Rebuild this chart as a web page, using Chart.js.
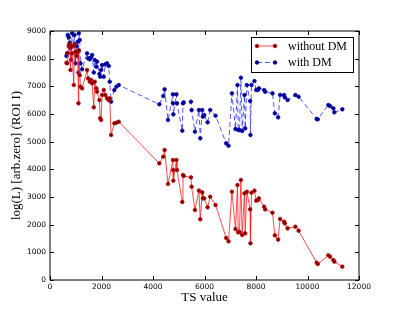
<!DOCTYPE html>
<html>
<head>
<meta charset="utf-8">
<script src="https://cdn.jsdelivr.net/npm/chart.js@4.4.1/dist/chart.umd.min.js"></script>
<style>
  html, body { margin: 0; padding: 0; background: #fff; }
  #wrap { width: 399px; height: 312px; }
</style>
</head>
<body>
<div id="wrap"><canvas id="myChart"></canvas></div>
<script>
// TS values shared by both series
var tsValues = [
  640, 665, 690, 730, 768, 795, 820, 860, 924, 950,
  989, 1027, 1078, 1105, 1117, 1156, 1183, 1248, 1442, 1480,
  1544, 1598, 1635, 1700, 1738, 1803, 1829, 1919, 1950, 1983,
  2022, 2087, 2151, 2216, 2281, 2320, 2372, 2500, 2578, 2669,
  4245, 4400, 4450, 4583, 4775, 4780, 4790, 4910, 4930, 5137,
  5165, 5190, 5473, 5499, 5628, 5783, 5835, 5912, 5938, 5990,
  6119, 6223, 6429, 6843, 6933, 7064, 7204, 7281, 7308, 7359,
  7413, 7463, 7552, 7580, 7645, 7773, 7785, 7824, 7940, 8006,
  8072, 8111, 8317, 8355, 8640, 8731, 8859, 8937, 9092, 9118,
  9227, 9531, 9654, 10358, 10398, 10809, 10875, 11004, 11043, 11352
];
var withoutDM = [
  7855, 7831, 8200, 8457, 8529, 7589, 8432, 8193, 7047, 8529,
  8251, 8100, 8251, 6385, 8300, 7400, 6986, 6927, 7589, 7288,
  7167, 7228, 7108, 6240, 7167, 6927, 6806, 6505, 5843, 5782,
  6686, 6867, 6686, 6566, 6500, 6566, 5240, 5663, 5685, 5721,
  4216, 4457, 4698, 3470, 4337, 3975, 3590, 4337, 3975, 2819,
  3795, 3758, 3711, 3373, 2530, 3229, 2193, 3168, 2951, 2951,
  2626, 3011, 2711, 1518, 1397, 3192, 1843, 3433, 1723, 1735,
  3614, 1626, 3132, 1687, 3192, 2554, 1325, 3156, 3229, 2867,
  2890, 2950, 2650, 2554, 2433, 1614, 1458, 2204, 2108, 2048,
  1867, 1927, 1783, 626, 578, 892, 843, 723, 663, 482
];
var withDM = [
  8095, 8190, 8854, 8770, 8577, 8373, 7951, 8914, 8457, 8854,
  7831, 8457, 8613, 7500, 8914, 8674, 7831, 7615, 8193, 8012,
  7975, 8048, 8131, 7500, 7951, 7710, 7891, 7451, 7348, 7589,
  7770, 7348, 7795, 7831, 7734, 7167, 6445, 6867, 6986, 7047,
  6350, 6650, 6890, 5782, 6710, 6385, 5987, 6710, 6385, 5397,
  6385, 6420, 6445, 6144, 5361, 6144, 5120, 6144, 5903, 5963,
  5698, 6144, 5939, 4939, 4855, 6746, 5457, 7047, 5421, 5421,
  7312, 5385, 6686, 5481, 7047, 6469, 5240, 7047, 7192, 6867,
  6867, 6927, 6867, 6806, 6746, 6023, 5879, 6686, 6686, 6602,
  6505, 6686, 6626, 5819, 5807, 6325, 6288, 6204, 6060, 6168
];
var xTicks = [0, 2000, 4000, 6000, 8000, 10000, 12000];
var yTicks = [0, 1000, 2000, 3000, 4000, 5000, 6000, 7000, 8000, 9000];
var seriesLabels = ['without DM', 'with DM'];

function toPoints(ys) {
  var pts = [];
  for (var i = 0; i < tsValues.length; i++) {
    pts.push({x: tsValues[i], y: ys[i]});
  }
  return pts;
}

var tickFont = {family: 'DejaVu Sans', size: 7.5};
var serif = 'Liberation Serif';

// frame with inward ticks on all four sides, like matplotlib
var framePlugin = {
  id: 'frame',
  afterDraw: function(chart) {
    var c = chart.ctx, a = chart.chartArea;
    var xs = chart.scales.x, ys = chart.scales.y;
    c.save();
    c.strokeStyle = '#000';
    c.lineWidth = 1;
    c.strokeRect(a.left, a.top, a.right - a.left, a.bottom - a.top);
    c.beginPath();
    xTicks.forEach(function(v) {
      var px = Math.round(xs.getPixelForValue(v)) + 0.5;
      c.moveTo(px, a.bottom); c.lineTo(px, a.bottom - 4);
      c.moveTo(px, a.top); c.lineTo(px, a.top + 4);
    });
    yTicks.forEach(function(v) {
      var py = Math.round(ys.getPixelForValue(v)) + 0.5;
      c.moveTo(a.left, py); c.lineTo(a.left + 4, py);
      c.moveTo(a.right, py); c.lineTo(a.right - 4, py);
    });
    c.stroke();
    c.restore();
  }
};

// matplotlib-style legend box: line sample with two markers
var legendPlugin = {
  id: 'mplLegend',
  afterDraw: function(chart) {
    var c = chart.ctx;
    var bx = 251, by = 37, bw = 102, bh = 35;
    c.save();
    c.fillStyle = '#fff';
    c.fillRect(bx, by, bw, bh);
    c.strokeStyle = '#000';
    c.lineWidth = 1;
    c.strokeRect(bx + 0.5, by + 0.5, bw, bh);
    chart.data.datasets.forEach(function(ds, i) {
      var y = by + 9 + i * 16.5;
      c.beginPath();
      c.strokeStyle = ds.borderColor;
      c.lineWidth = ds.borderWidth;
      c.setLineDash(ds.borderDash || []);
      c.moveTo(257, y); c.lineTo(275, y);
      c.stroke();
      c.setLineDash([]);
      [257, 275].forEach(function(px) {
        c.beginPath();
        c.arc(px, y, ds.pointRadius, 0, Math.PI * 2);
        c.fillStyle = ds.pointBackgroundColor;
        c.fill();
        c.strokeStyle = ds.pointBorderColor;
        c.lineWidth = ds.pointBorderWidth;
        c.stroke();
      });
      c.fillStyle = '#000';
      c.font = '12px "' + serif + '"';
      c.textBaseline = 'middle';
      c.textAlign = 'left';
      c.fillText(ds.label, 288, y + 0.5);
    });
    c.restore();
  }
};

function plainLabel(v) { return String(v); }

var ctx = document.getElementById('myChart').getContext('2d');
var myChart = new Chart(ctx, {
  type: 'scatter',
  data: {
    datasets: [{
      label: seriesLabels[0],
      data: toPoints(withoutDM),
      showLine: true,
      borderColor: 'rgba(255, 30, 30, 0.8)',
      borderWidth: 1,
      pointRadius: 1.8,
      pointBackgroundColor: '#7a0000',
      pointBorderColor: '#c00000',
      pointBorderWidth: 0.8
    }, {
      label: seriesLabels[1],
      data: toPoints(withDM),
      showLine: true,
      borderColor: 'rgba(40, 40, 255, 0.8)',
      borderWidth: 1,
      borderDash: [5, 3],
      pointRadius: 1.8,
      pointBackgroundColor: '#00007a',
      pointBorderColor: '#0000c0',
      pointBorderWidth: 0.8
    }]
  },
  options: {
    responsive: true,
    maintainAspectRatio: false,
    animation: false,
    layout: {padding: {left: 0, right: 40, top: 31, bottom: 0}},
    plugins: {legend: {display: false}, tooltip: {enabled: false}},
    scales: {
      x: {
        type: 'linear', min: 0, max: 12000,
        afterBuildTicks: function(s) { s.ticks = xTicks.map(function(v) { return {value: v}; }); },
        afterFit: function(s) { s.height = 32; },
        grid: {display: false, drawTicks: false},
        border: {display: false},
        ticks: {font: tickFont, color: '#000', padding: 3, maxRotation: 0, autoSkip: false, callback: plainLabel},
        title: {display: true, text: 'TS value', color: '#000',
                font: {family: serif, size: 13}, padding: {top: 0, bottom: 7}}
      },
      y: {
        min: 0, max: 9000,
        afterBuildTicks: function(s) { s.ticks = yTicks.map(function(v) { return {value: v}; }); },
        afterFit: function(s) { s.width = 50; },
        grid: {display: false, drawTicks: false},
        border: {display: false},
        ticks: {font: tickFont, color: '#000', padding: 4, autoSkip: false, callback: plainLabel},
        title: {display: true, text: 'log(L) [arb.zero] (ROI I)', color: '#000',
                font: {family: serif, size: 13}, padding: {top: 9, bottom: 0}}
      }
    }
  },
  plugins: [framePlugin, legendPlugin]
});
</script>
</body>
</html>
